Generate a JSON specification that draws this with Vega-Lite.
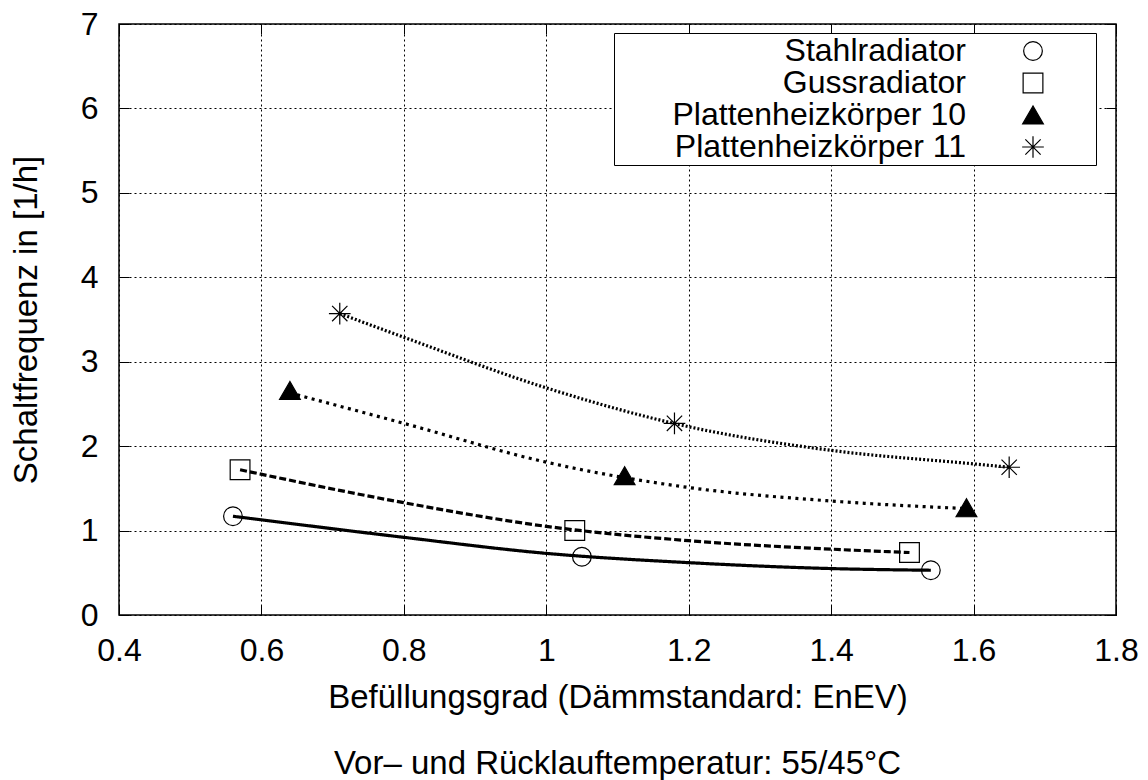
{
  "$schema": "https://vega.github.io/schema/vega-lite/v6.json",
  "width": 997,
  "height": 591,
  "autosize": {"type": "none"},
  "padding": {"left": 119, "top": 24, "right": 32, "bottom": 165},
  "background": "white",
  "title": {
    "text": "Vor– und Rücklauftemperatur: 55/45°C",
    "orient": "bottom",
    "anchor": "middle",
    "frame": "group",
    "offset": 34,
    "fontSize": 33,
    "fontWeight": "normal",
    "font": "Liberation Sans",
    "color": "black"
  },
  "config": {
    "font": "Liberation Sans",
    "view": {"stroke": "black", "strokeWidth": 1.5},
    "axis": {
      "domain": false,
      "labelFont": "Liberation Sans",
      "labelFontSize": 32,
      "labelColor": "black",
      "titleFont": "Liberation Sans",
      "titleFontSize": 33,
      "titleFontWeight": "normal",
      "titleColor": "black",
      "tickColor": "black",
      "tickWidth": 1,
      "tickSize": -10,
      "gridColor": "black",
      "gridDash": [2, 3],
      "gridOpacity": 1,
      "gridWidth": 1,
      "labelOverlap": false,
      "labelFlush": false
    },
    "legend": {
      "fillColor": "white",
      "strokeColor": "black",
      "padding": 2,
      "rowPadding": 0,
      "labelFont": "Liberation Sans",
      "labelFontSize": 32,
      "labelColor": "black",
      "labelLimit": 500,
      "symbolStrokeColor": "black",
      "symbolStrokeWidth": 1.2,
      "symbolOpacity": 1
    }
  },
  "datasets": {
    "kurven": [
      {"serie": "Stahlradiator", "grad": 0.56, "frequenz": 1.17},
      {"serie": "Stahlradiator", "grad": 0.8, "frequenz": 0.92},
      {"serie": "Stahlradiator", "grad": 1.0, "frequenz": 0.73},
      {"serie": "Stahlradiator", "grad": 1.2, "frequenz": 0.62},
      {"serie": "Stahlradiator", "grad": 1.4, "frequenz": 0.55},
      {"serie": "Stahlradiator", "grad": 1.54, "frequenz": 0.53},
      {"serie": "Gussradiator", "grad": 0.57, "frequenz": 1.72},
      {"serie": "Gussradiator", "grad": 0.8, "frequenz": 1.33},
      {"serie": "Gussradiator", "grad": 1.0, "frequenz": 1.05},
      {"serie": "Gussradiator", "grad": 1.2, "frequenz": 0.88},
      {"serie": "Gussradiator", "grad": 1.4, "frequenz": 0.78},
      {"serie": "Gussradiator", "grad": 1.51, "frequenz": 0.74},
      {"serie": "Plattenheizkörper 10", "grad": 0.64, "frequenz": 2.63},
      {"serie": "Plattenheizkörper 10", "grad": 0.8, "frequenz": 2.27},
      {"serie": "Plattenheizkörper 10", "grad": 1.0, "frequenz": 1.81},
      {"serie": "Plattenheizkörper 10", "grad": 1.2, "frequenz": 1.51},
      {"serie": "Plattenheizkörper 10", "grad": 1.4, "frequenz": 1.35},
      {"serie": "Plattenheizkörper 10", "grad": 1.59, "frequenz": 1.26},
      {"serie": "Plattenheizkörper 11", "grad": 0.71, "frequenz": 3.57},
      {"serie": "Plattenheizkörper 11", "grad": 0.8, "frequenz": 3.29},
      {"serie": "Plattenheizkörper 11", "grad": 1.0, "frequenz": 2.69},
      {"serie": "Plattenheizkörper 11", "grad": 1.2, "frequenz": 2.23},
      {"serie": "Plattenheizkörper 11", "grad": 1.4, "frequenz": 1.95},
      {"serie": "Plattenheizkörper 11", "grad": 1.6, "frequenz": 1.79},
      {"serie": "Plattenheizkörper 11", "grad": 1.65, "frequenz": 1.75}
    ],
    "messwerte": [
      {"serie": "Stahlradiator", "grad": 0.56, "frequenz": 1.17},
      {"serie": "Stahlradiator", "grad": 1.05, "frequenz": 0.69},
      {"serie": "Stahlradiator", "grad": 1.54, "frequenz": 0.53},
      {"serie": "Gussradiator", "grad": 0.57, "frequenz": 1.72},
      {"serie": "Gussradiator", "grad": 1.04, "frequenz": 1.0},
      {"serie": "Gussradiator", "grad": 1.51, "frequenz": 0.74},
      {"serie": "Plattenheizkörper 10", "grad": 0.64, "frequenz": 2.66},
      {"serie": "Plattenheizkörper 10", "grad": 1.11, "frequenz": 1.65},
      {"serie": "Plattenheizkörper 10", "grad": 1.59, "frequenz": 1.27},
      {"serie": "Plattenheizkörper 11", "grad": 0.71, "frequenz": 3.57},
      {"serie": "Plattenheizkörper 11", "grad": 1.18, "frequenz": 2.27},
      {"serie": "Plattenheizkörper 11", "grad": 1.65, "frequenz": 1.75}
    ]
  },
  "resolve": {"axis": {"x": "independent", "y": "independent"}},
  "layer": [
    {
      "data": {"name": "kurven"},
      "mark": {"type": "line", "color": "black", "strokeWidth": 3.2, "interpolate": "monotone"},
      "encoding": {
        "x": {
          "field": "grad",
          "type": "quantitative",
          "scale": {"domain": [0.4, 1.8], "nice": false, "zero": false},
          "axis": {
            "title": "Befüllungsgrad (Dämmstandard: EnEV)",
            "values": [0.4, 0.6, 0.8, 1, 1.2, 1.4, 1.6, 1.8],
            "format": "~g",
            "labelPadding": 30,
            "titlePadding": 15
          }
        },
        "y": {
          "field": "frequenz",
          "type": "quantitative",
          "scale": {"domain": [0, 7], "nice": false, "zero": true},
          "axis": {
            "title": "Schaltfrequenz in [1/h]",
            "values": [0, 1, 2, 3, 4, 5, 6, 7],
            "format": "d",
            "labelPadding": 31,
            "titlePadding": 37
          }
        },
        "strokeDash": {
          "field": "serie",
          "type": "nominal",
          "scale": {
            "range": [[7, 3], [3, 4.5], [2, 2], [1, 0]]
          },
          "legend": null
        }
      }
    },
    {
      "data": {"name": "messwerte"},
      "mark": {"type": "point", "filled": false, "stroke": "black", "strokeWidth": 1.2, "opacity": 1},
      "encoding": {
        "x": {
          "field": "grad",
          "type": "quantitative",
          "axis": {
            "orient": "top",
            "values": [0.4, 0.6, 0.8, 1, 1.2, 1.4, 1.6, 1.8],
            "labels": false,
            "grid": false,
            "title": null
          }
        },
        "y": {
          "field": "frequenz",
          "type": "quantitative",
          "axis": {
            "orient": "right",
            "values": [0, 1, 2, 3, 4, 5, 6, 7],
            "labels": false,
            "grid": false,
            "title": null
          }
        },
        "shape": {
          "field": "serie",
          "type": "nominal",
          "scale": {
            "domain": ["Stahlradiator", "Gussradiator", "Plattenheizkörper 10", "Plattenheizkörper 11"],
            "range": ["circle", "square", "triangle-up", "M-1,0L1,0M0,-1L0,1M-0.707,-0.707L0.707,0.707M-0.707,0.707L0.707,-0.707"]
          },
          "legend": {
            "orient": "none",
            "legendX": 495,
            "legendY": 9,
            "title": "\u00a0",
            "titleOrient": "right",
            "titlePadding": 48,
            "titleFontSize": 11,
            "labelAlign": "right",
            "labelOffset": -83,
            "symbolOffset": 401,
            "encode": {
              "symbols": {
                "update": {
                  "stroke": {"value": "black"},
                  "strokeOpacity": {"value": 1},
                  "strokeWidth": {"value": 1.2}
                }
              }
            }
          }
        },
        "fill": {
          "field": "serie",
          "type": "nominal",
          "scale": {
            "domain": ["Stahlradiator", "Gussradiator", "Plattenheizkörper 10", "Plattenheizkörper 11"],
            "range": ["transparent", "transparent", "black", "transparent"]
          },
          "legend": {
            "orient": "none",
            "legendX": 495,
            "legendY": 9,
            "title": "\u00a0",
            "titleOrient": "right",
            "titlePadding": 48,
            "titleFontSize": 11,
            "labelAlign": "right",
            "labelOffset": -83,
            "symbolOffset": 401,
            "encode": {
              "symbols": {
                "update": {
                  "stroke": {"value": "black"},
                  "strokeOpacity": {"value": 1},
                  "strokeWidth": {"value": 1.2}
                }
              }
            }
          }
        },
        "size": {
          "field": "serie",
          "type": "nominal",
          "scale": {
            "domain": ["Stahlradiator", "Gussradiator", "Plattenheizkörper 10", "Plattenheizkörper 11"],
            "range": [350, 470, 440, 420]
          },
          "legend": {
            "orient": "none",
            "legendX": 495,
            "legendY": 9,
            "title": "\u00a0",
            "titleOrient": "right",
            "titlePadding": 48,
            "titleFontSize": 11,
            "labelAlign": "right",
            "labelOffset": -83,
            "symbolOffset": 401,
            "encode": {
              "symbols": {
                "update": {
                  "stroke": {"value": "black"},
                  "strokeOpacity": {"value": 1},
                  "strokeWidth": {"value": 1.2}
                }
              }
            }
          }
        }
      }
    }
  ]
}
